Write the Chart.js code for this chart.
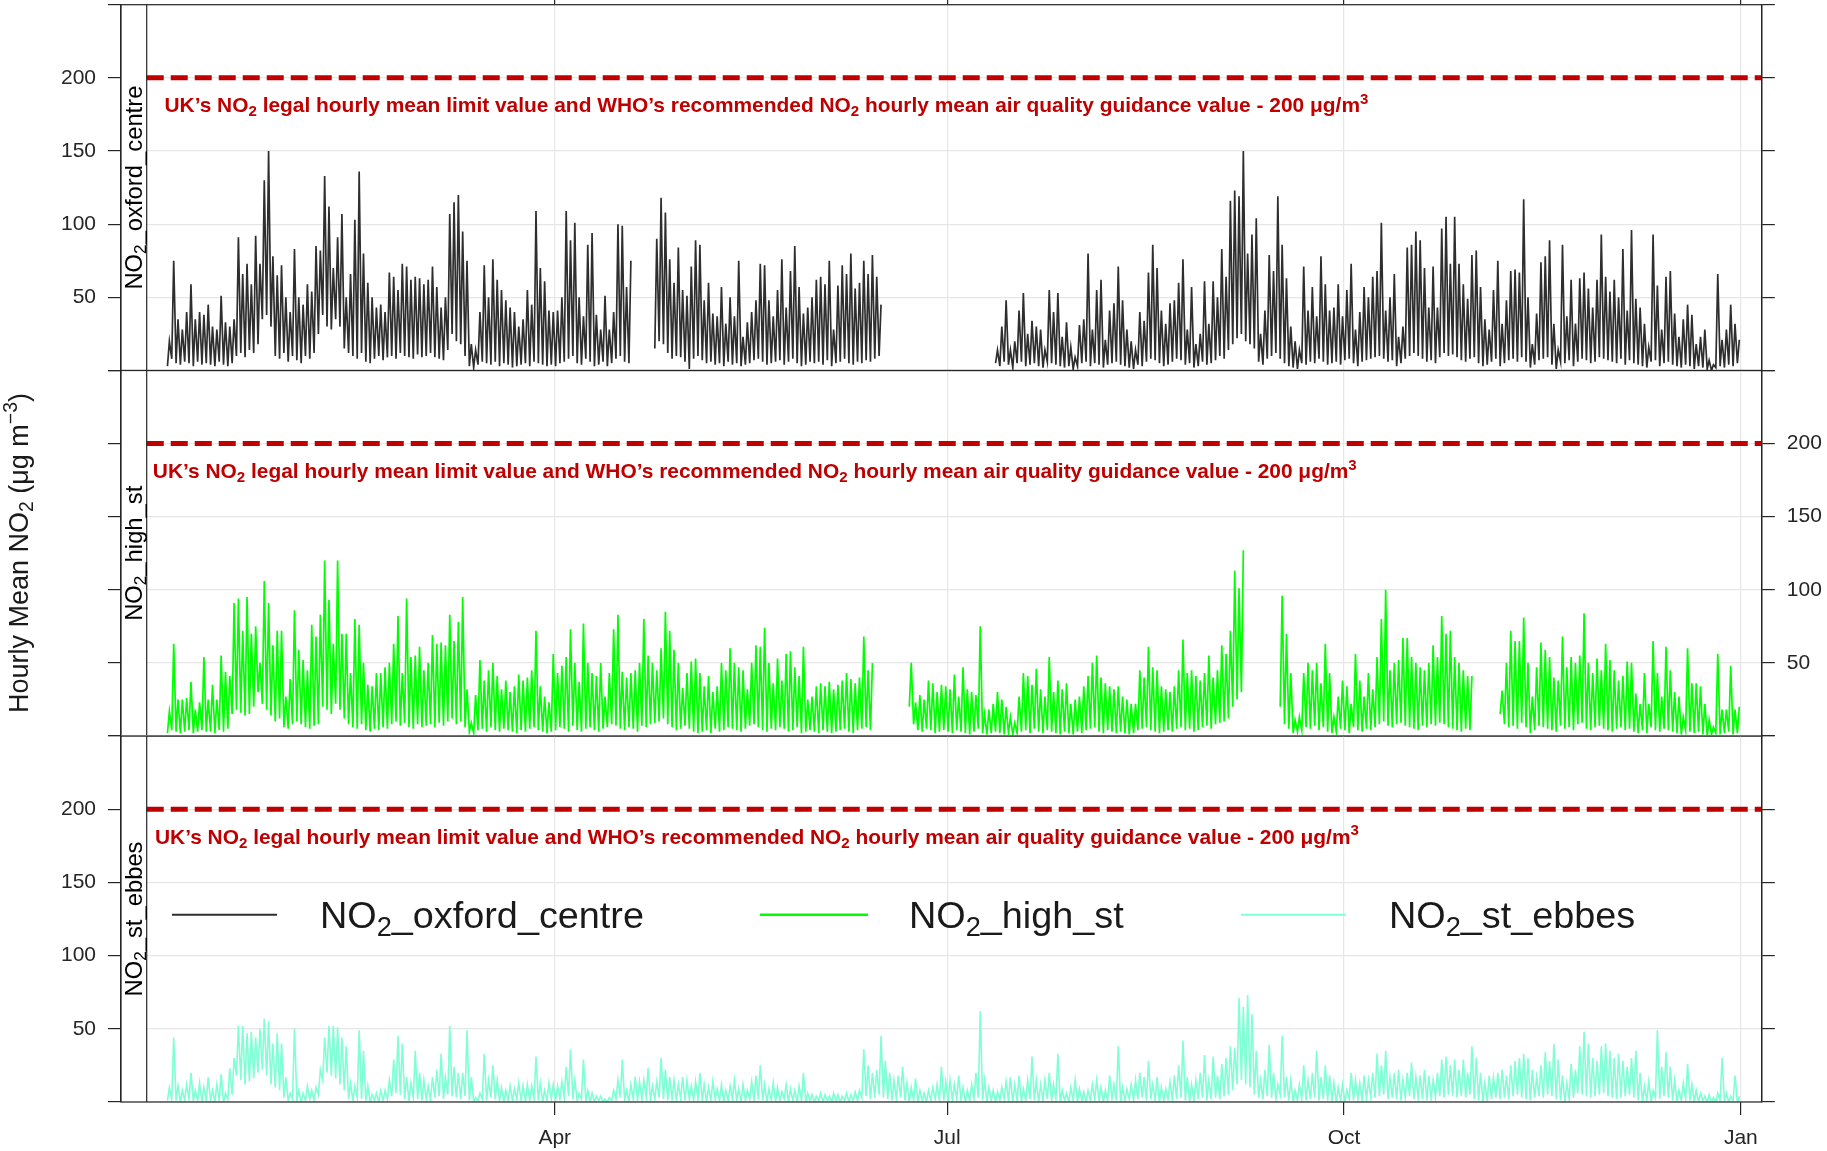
<!DOCTYPE html>
<html><head><meta charset="utf-8">
<script src="https://cdn.jsdelivr.net/npm/chart.js@4.4.1/dist/chart.umd.min.js"></script>
<style>
html,body{margin:0;padding:0;background:#fff;}
#wrap{position:relative;width:1827px;height:1151px;overflow:hidden;}
canvas{position:absolute;left:0;top:0;}
</style></head><body>
<div id="wrap">
<canvas id="c1" width="1827" height="1151"></canvas>
<canvas id="c2" width="1827" height="1151"></canvas>
<canvas id="c3" width="1827" height="1151"></canvas>
</div>
<script>
const N = null;
// ---- tick labels / categories ----
const monthTickDays = [90, 181, 273, 365];
const monthTickLabels = ['Apr', 'Jul', 'Oct', 'Jan'];
const yTickValues = [0, 50, 100, 150, 200, 250];
const yTickLabels = ['', '50', '100', '150', '200', ''];
const limitValue = 200;
const siteNames = ['oxford_centre', 'high_st', 'st_ebbes'];

// ---- daily peak / trough of hourly NO2 (day 0 = 1 Jan) ----
const oxfordPeak = [
20,75,35,28,40,59,35,40,38,45, 30,28,51,33,30,35,91,66,73,59,
92,73,130,150,78,65,72,50,40,83, 50,45,59,54,85,82,133,112,70,91,
107,50,66,103,136,80,60,50,43,45, 40,67,64,55,73,71,62,64,63,59,
62,71,57,43,50,107,115,120,95,75, 18,14,40,72,50,76,62,55,48,43,
40,30,35,55,45,109,70,61,41,40, 41,50,109,89,101,50,37,86,94,38,
28,51,28,40,100,99,57,75,N,N, N,N,N,90,118,108,76,60,84,55,
51,71,89,86,48,60,39,37,57,32, 50,37,75,23,33,40,48,73,72,48,
37,55,76,43,68,85,57,39,43,50, 62,64,59,75,28,58,72,66,80,56,
60,75,66,79,64,45,N,N,N,N, N,N,N,N,N,N,N,N,N,N,
N,N,N,N,N,N,N,N,N,N, N,N,14,30,48,14,20,41,53,25,
34,30,28,14,55,40,53,23,33,16, 9,31,35,80,28,55,62,21,41,46,
71,48,28,20,14,40,34,67,86,70, 41,32,46,48,60,76,28,57,18,25,
61,32,61,50,83,64,116,123,119,150, 80,93,104,25,41,79,68,119,86,63,
30,20,14,71,41,57,37,78,59,41, 43,59,37,55,73,28,40,57,50,64,
68,101,41,50,66,23,30,84,86,95, 89,70,43,71,43,97,105,73,105,73,
59,49,79,82,57,35,28,55,75,32, 48,68,69,67,117,50,18,39,74,78,
89,32,14,86,37,62,32,63,67,56, 43,62,93,64,54,62,50,83,41,96,
49,43,32,16,93,58,28,64,68,39, 23,35,45,38,18,23,28,7,4,66,
21,28,45,32,21];
const oxfordLow = [
3,8,5,4,6,5,3,6,4,5, 4,3,6,4,3,5,10,12,9,14,
12,18,35,38,30,10,8,12,6,10, 7,5,10,8,12,25,38,30,28,35,
30,15,12,10,8,12,6,5,8,10, 7,9,10,8,12,10,9,8,11,9,
10,12,9,8,7,14,25,20,18,10, 3,2,4,6,5,4,6,3,5,4,
2,3,4,5,3,6,5,4,3,4, 3,5,6,8,10,5,4,8,6,3,
4,6,3,5,8,10,6,5,N,N, N,N,N,15,20,18,12,8,10,9,
6,1,8,10,7,5,6,4,5,3, 6,4,5,3,4,5,7,8,6,4,
5,6,7,4,6,8,5,3,4,6, 5,6,4,7,3,5,6,8,5,4,
6,5,7,6,8,10,N,N,N,N, N,N,N,N,N,N,N,N,N,N,
N,N,N,N,N,N,N,N,N,N, N,N,5,3,6,4,2,5,6,3,
4,5,3,2,6,5,4,3,2,3, 1,3,5,6,3,5,4,2,4,5,
6,4,3,2,1,4,3,6,8,7, 5,3,4,6,8,7,4,5,2,3,
6,4,5,7,10,8,14,18,22,25, 20,18,15,6,4,8,10,12,8,5,
3,2,1,5,4,6,5,8,6,4, 5,6,4,7,8,5,3,6,7,8,
9,10,8,6,7,3,5,8,10,12, 10,8,6,7,5,9,12,10,11,9,
7,6,8,9,5,3,4,6,8,3, 5,7,8,6,9,6,2,4,7,8,
9,4,1,6,5,7,3,6,8,7, 5,6,9,8,7,6,5,8,4,7,
5,4,3,2,6,7,3,5,6,4, 3,2,4,3,1,3,2,1,0,2,
3,2,4,3,5];

const highStPeak = [
17,63,25,25,26,37,18,23,54,25, 35,25,55,44,41,91,94,72,95,70,
75,50,106,91,62,72,72,27,39,86, 59,52,45,76,68,83,120,93,63,120,
70,70,43,80,76,50,35,34,43,43, 47,50,63,82,43,94,54,55,61,45,
50,69,63,64,62,83,65,78,95,32, 9,28,52,38,45,50,41,32,38,30,
34,42,38,40,45,72,34,27,23,56, 43,48,54,73,50,37,77,50,43,41,
50,27,43,73,83,44,40,43,45,50, 80,55,50,45,60,85,72,59,50,33,
43,51,53,43,34,41,30,34,50,45, 60,50,47,45,32,50,62,61,74,50,
36,53,38,56,58,47,41,61,25,27, 34,36,34,37,32,35,38,43,39,36,
40,68,45,50,N,N,N,N,N,N, N,N,50,23,28,25,38,36,30,35,
34,32,42,27,47,32,30,28,75,15, 18,22,30,25,20,13,9,27,43,41,
35,46,32,27,54,30,38,32,36,22, 25,27,34,41,50,55,40,36,34,32,
34,27,25,22,22,45,40,61,47,45, 34,32,30,34,45,66,43,45,41,38,
43,55,40,45,62,56,72,113,101,127, N,N,N,N,N,N,N,N,96,70,
43,11,13,43,50,45,50,36,63,43, 13,27,38,34,22,56,38,27,43,32,
54,80,100,45,50,52,67,67,54,50, 47,45,50,62,54,82,70,72,54,50,
45,41,41,N,N,N,N,N,N,31, 50,72,65,65,81,50,27,47,64,59,
54,40,38,68,47,54,50,55,84,50, 43,53,45,63,52,45,38,41,51,50,
29,22,43,22,65,43,27,61,45,30, 27,13,60,36,36,34,22,11,6,56,
18,18,48,18,20];
const highStLow = [
2,4,3,2,3,4,2,3,4,3, 3,2,4,3,5,15,18,16,14,15,
20,30,22,18,14,10,12,6,5,8, 10,8,6,5,7,8,20,18,15,22,
18,12,8,6,5,8,4,3,5,4, 6,5,8,10,7,9,6,5,8,6,
7,8,6,9,7,10,12,8,10,6, 3,2,4,5,3,6,4,3,5,4,
3,2,4,3,5,6,4,3,2,3, 4,6,5,3,7,4,3,5,6,4,
3,5,6,8,7,5,4,6,5,3, 7,6,8,9,10,12,8,6,4,5,
7,5,3,2,3,4,2,5,3,4, 6,5,4,3,5,7,8,6,4,3,
5,4,6,5,3,4,6,2,3,4, 3,2,4,3,2,3,4,5,3,2,
4,5,6,4,N,N,N,N,N,N, N,N,20,8,4,3,5,4,2,3,
4,3,2,4,3,2,1,3,5,2, 1,2,3,2,1,2,1,2,3,4,
2,5,3,2,4,3,2,1,3,2, 1,3,2,4,5,6,3,2,4,3,
2,3,2,1,2,4,5,6,4,3, 2,3,4,3,5,6,4,5,3,4,
6,7,5,8,9,10,12,20,25,30, N,N,N,N,N,N,N,N,20,8,
5,2,3,4,6,5,7,4,6,3, 2,3,5,4,2,6,4,3,5,4,
6,8,10,7,6,8,9,7,6,5, 4,7,6,8,7,9,8,6,5,4,
3,5,4,N,N,N,N,N,N,15, 8,6,7,5,9,6,2,4,7,6,
5,4,3,7,5,6,4,8,9,5, 4,6,7,5,4,3,5,6,4,5,
3,2,4,2,6,4,3,5,4,3, 2,1,4,3,2,3,1,0,1,2,
1,2,3,1,2];

const stEbbesPeak = [
10,44,11,8,12,20,8,13,10,17, 8,12,19,6,23,30,52,52,47,48,
44,50,57,55,40,47,40,17,6,50, 8,6,11,8,10,22,44,52,52,51,
44,38,13,11,49,35,11,5,6,8, 8,15,29,45,40,17,13,35,20,15,
11,17,22,33,17,52,24,20,20,49, 17,3,6,33,15,25,15,10,8,11,
9,13,11,12,11,31,13,8,13,12, 11,14,24,36,15,6,29,8,6,4,
4,2,3,8,15,29,8,12,17,14, 15,23,11,14,30,22,17,15,12,17,
15,11,14,20,12,10,14,9,12,8, 11,15,9,12,8,14,18,25,12,9,
13,10,7,12,9,8,11,20,6,5, 4,6,5,4,6,5,4,6,5,7,
8,36,25,20,22,45,28,20,15,18, 24,13,10,16,8,6,8,10,12,24,
14,15,12,18,10,8,12,20,62,15, 10,8,7,10,14,17,12,18,9,15,
31,15,12,15,20,12,33,8,6,10, 15,9,7,8,12,15,10,8,18,12,
38,10,9,12,15,20,17,28,12,17, 10,9,14,18,25,42,17,12,15,20,
32,15,31,18,26,30,38,37,71,65, 73,60,35,15,22,39,20,12,45,17,
15,8,12,25,15,20,35,17,25,18, 13,10,12,8,20,15,13,18,15,20,
33,25,35,17,20,22,15,20,27,17, 18,22,18,15,20,29,31,25,29,22,
29,20,38,30,20,13,18,17,20,22, 18,25,28,30,33,30,22,17,25,34,
28,40,29,18,13,26,22,38,48,40, 30,28,38,40,35,30,33,28,24,30,
35,20,11,14,8,49,24,34,24,15, 8,13,26,12,8,6,4,5,3,6,
30,6,4,18,4];
const stEbbesLow = [
1,2,1,0,1,2,1,1,0,1, 1,0,1,0,2,5,18,15,12,14,
16,20,22,18,12,10,8,3,1,2, 1,0,1,2,1,5,15,20,18,16,
12,8,2,1,3,2,1,0,1,0, 1,2,4,6,5,2,1,3,2,1,
2,1,3,4,2,5,4,3,2,4, 1,0,1,2,1,3,2,1,0,1,
1,2,1,0,1,2,1,0,1,2, 1,2,3,4,2,1,2,1,0,0,
1,0,0,1,2,3,1,0,2,1, 2,3,1,2,3,2,1,2,1,2,
1,2,1,2,1,0,1,2,1,0, 1,2,1,0,1,2,1,2,1,0,
1,0,1,2,0,1,0,1,0,1, 0,1,0,1,0,1,0,1,0,1,
1,3,4,2,3,5,3,2,1,2, 3,1,0,1,0,1,0,1,2,1,
1,0,1,2,1,0,1,2,3,1, 0,1,0,1,2,1,0,1,0,1,
2,1,0,1,2,1,2,0,1,0, 1,0,1,0,1,2,1,0,1,2,
1,0,1,2,1,2,3,1,2,1, 0,1,2,1,2,3,1,0,1,2,
3,1,2,3,2,4,5,8,12,15, 12,10,5,3,2,4,3,2,5,3,
1,0,1,2,1,2,3,1,2,1, 1,0,1,0,2,1,2,1,2,3,
3,4,5,2,3,2,1,3,4,2, 3,2,1,2,3,4,3,5,4,3,
4,3,5,2,1,0,1,2,3,2, 3,2,4,5,3,2,1,3,4,3,
5,4,2,1,0,2,3,6,5,4, 3,4,5,6,4,3,2,3,4,5,
3,1,0,1,0,3,2,4,3,1, 0,1,2,1,0,0,1,0,0,0,
1,0,0,1,0];

[oxfordPeak,oxfordLow,highStPeak,highStLow,stEbbesPeak,stEbbesLow].forEach((a,i)=>{
  if (a.length !== 365) throw new Error('array '+i+' has length '+a.length);
});

// ---- layout / style ----
const FONT = '"Liberation Sans", Arial, Helvetica, sans-serif';
const PAGE_W = 1827, PAGE_H = 1151;
const BOX_LEFT = 121, STRIP_RIGHT = 146.7, BOX_RIGHT = 1761.8;
const LEFT_W = BOX_LEFT, RIGHT_W = PAGE_W - BOX_RIGHT;
const X_MIN = -10.57, X_MAX = 369.86, Y_MIN = 0, Y_MAX = 250;
const LIMIT_START = -4.6;
const GRID = '#e6e6e6', AXIS = '#262626', RED = '#c00000';
const TICK_FONT = { family: FONT, size: 21 };
const X_AXIS_H = 49;
const ANNOT_Y = 176.5;
const STRIP_BASE_X = 141.5;

const panelDefs = [
  { canvas:'c1', peak:oxfordPeak, low:oxfordLow, color:'#2e2e2e', lw:1.7, top:4.7, bottom:370.5, labelSide:'left', xPos:'top', xTicks:true, xLabels:false, annotX:-0.5 },
  { canvas:'c2', peak:highStPeak, low:highStLow, color:'#00ff00', lw:1.7, top:370.5, bottom:736, labelSide:'right', xPos:'bottom', xTicks:false, xLabels:false, annotX:-3.2 },
  { canvas:'c3', peak:stEbbesPeak, low:stEbbesLow, color:'#7fffd4', lw:1.6, top:736, bottom:1102, labelSide:'left', xPos:'bottom', xTicks:true, xLabels:true, annotX:-2.7 }
];

const legendLayout = [
  { x0:172, x1:277, tx:320, lw:2 },
  { x0:760, x1:868, tx:909, lw:2.5 },
  { x0:1241, x1:1346, tx:1389, lw:2 }
];
const LEGEND_Y = 914.7;

// ---- rich text helpers ----
function richWidth(ctx, segs, size, weight) {
  let w = 0;
  for (const s of segs) {
    const fs = (s.sub || s.sup) ? size * 0.72 : size;
    ctx.font = weight + ' ' + fs + 'px ' + FONT;
    w += ctx.measureText(s.t).width;
  }
  return w;
}
function drawRich(ctx, segs, x, y, size, weight, color) {
  ctx.fillStyle = color; ctx.textAlign = 'left'; ctx.textBaseline = 'alphabetic';
  let cx = x;
  for (const s of segs) {
    const fs = (s.sub || s.sup) ? size * 0.72 : size;
    ctx.font = weight + ' ' + fs + 'px ' + FONT;
    const dy = s.sub ? size * 0.2 : (s.sup ? -size * 0.4 : 0);
    ctx.fillText(s.t, cx, y + dy);
    cx += ctx.measureText(s.t).width;
  }
}
function nameSegs(name) { return [{ t:'NO' }, { t:'2', sub:true }, { t:'_' + name }]; }
const annotSegs = [{ t:'UK\u2019s NO' }, { t:'2', sub:true }, { t:' legal hourly mean limit value and WHO\u2019s recommended NO' }, { t:'2', sub:true }, { t:' hourly mean air quality guidance value - 200 \u03bcg/m' }, { t:'3', sup:true }];
const titleSegs = [{ t:'Hourly Mean NO' }, { t:'2', sub:true }, { t:' (\u03bcg m' }, { t:'\u22123', sup:true }, { t:')' }];

const mctx = document.createElement('canvas').getContext('2d');
const annotSize = 20 * 1205 / richWidth(mctx, annotSegs, 20, 'bold');
const stripSize = 20 * 204 / richWidth(mctx, nameSegs(siteNames[0]), 20, 'normal');
const legendSize = 20 * 324 / richWidth(mctx, nameSegs(siteNames[0]), 20, 'normal');
const titleSize = 20 * 320 / richWidth(mctx, titleSegs, 20, 'normal');

function buildPoints(peak, low) {
  const pts = [];
  for (let d = 0; d < peak.length; d++) {
    if (peak[d] === null) { pts.push({ x:d + 0.5, y:null }); continue; }
    pts.push({ x:d + 0.2, y:low[d] });
    pts.push({ x:d + 0.65, y:peak[d] });
  }
  return pts;
}

function yScale(pos, labeled) {
  return {
    type:'linear', position:pos, min:Y_MIN, max:Y_MAX,
    afterBuildTicks: s => { s.ticks = yTickValues.map(v => ({ value:v })); },
    afterFit: s => { s.width = (pos === 'left') ? LEFT_W : RIGHT_W; s.paddingTop = 0; s.paddingBottom = 0; },
    ticks: { display:labeled, callback:(v, i) => yTickLabels[i], font:TICK_FONT, color:AXIS, padding:12 },
    grid: { color:GRID, lineWidth:1.2, drawOnChartArea:labeled, drawTicks:true, tickLength:13, tickColor:AXIS, tickWidth:1.2 },
    border: { display:true, color:AXIS, width:1.2 }
  };
}
function xScale(p) {
  return {
    type:'linear', position:p.xPos, min:X_MIN, max:X_MAX,
    afterBuildTicks: s => { s.ticks = monthTickDays.map(v => ({ value:v })); },
    afterFit: s => { s.height = p.xLabels ? X_AXIS_H : 0; s.paddingLeft = 0; s.paddingRight = 0; },
    ticks: { display:p.xLabels, callback:(v, i) => monthTickLabels[i], font:TICK_FONT, color:AXIS, padding:11, maxRotation:0, autoSkip:false },
    grid: { color:GRID, lineWidth:1.2, drawOnChartArea:true, drawTicks:p.xTicks, tickLength:13, tickColor:AXIS, tickWidth:1.2 },
    border: { display:false }
  };
}

function drawYTitle(ctx) {
  ctx.save();
  ctx.translate(28, 553);
  ctx.rotate(-Math.PI / 2);
  const w = richWidth(ctx, titleSegs, titleSize, 'normal');
  drawRich(ctx, titleSegs, -w / 2, 0, titleSize, 'normal', '#1a1a1a');
  ctx.restore();
}
function drawLegend(ctx) {
  ctx.save();
  legendLayout.forEach((L, i) => {
    ctx.strokeStyle = panelDefs[i].color; ctx.lineWidth = L.lw;
    ctx.beginPath(); ctx.moveTo(L.x0, LEGEND_Y); ctx.lineTo(L.x1, LEGEND_Y); ctx.stroke();
    drawRich(ctx, nameSegs(siteNames[i]), L.tx, LEGEND_Y + legendSize * 0.36, legendSize, 'normal', '#1a1a1a');
  });
  ctx.restore();
}

function decorPlugin(p, idx) {
  const yId = p.labelSide === 'left' ? 'yL' : 'yR';
  return {
    id:'decor' + idx,
    beforeDatasetsDraw(chart) {
      const { ctx, chartArea:a } = chart;
      ctx.save();
      ctx.fillStyle = '#ffffff';
      ctx.fillRect(a.left + 0.6, a.top + 0.6, STRIP_RIGHT - a.left - 0.6, a.bottom - a.top - 1.2);
      ctx.restore();
    },
    afterDraw(chart) {
      const { ctx, chartArea:a } = chart;
      const xs = chart.scales.x, ys = chart.scales[yId];
      ctx.save();
      drawRich(ctx, annotSegs, xs.getPixelForValue(p.annotX), ys.getPixelForValue(ANNOT_Y), annotSize, 'bold', RED);
      ctx.strokeStyle = AXIS; ctx.lineWidth = 1.2;
      ctx.beginPath(); ctx.moveTo(STRIP_RIGHT, a.top); ctx.lineTo(STRIP_RIGHT, a.bottom); ctx.stroke();
      ctx.strokeRect(a.left, a.top, a.right - a.left, a.bottom - a.top);
      const segs = nameSegs(siteNames[idx]);
      ctx.translate(STRIP_BASE_X, (a.top + a.bottom) / 2);
      ctx.rotate(-Math.PI / 2);
      const w = richWidth(ctx, segs, stripSize, 'normal');
      drawRich(ctx, segs, -w / 2, 0, stripSize, 'normal', '#000000');
      ctx.restore();
      if (idx === 0) drawYTitle(ctx);
      if (idx === 2) drawLegend(ctx);
    }
  };
}

panelDefs.forEach((p, idx) => {
  const labelLeft = p.labelSide === 'left';
  const yId = labelLeft ? 'yL' : 'yR';
  new Chart(document.getElementById(p.canvas), {
    type:'line',
    data: { datasets: [
      { label:siteNames[idx], data:buildPoints(p.peak, p.low), yAxisID:yId, xAxisID:'x', borderColor:p.color, borderWidth:p.lw, pointRadius:0, tension:0, spanGaps:false, fill:false, borderJoinStyle:'miter' },
      { label:'limit', data:[{ x:LIMIT_START, y:limitValue }, { x:X_MAX, y:limitValue }], yAxisID:yId, xAxisID:'x', borderColor:RED, borderWidth:5, borderDash:[17, 7], borderCapStyle:'butt', pointRadius:0, fill:false }
    ] },
    options: {
      responsive:false, animation:false, events:[],
      layout: { padding: { left:BOX_LEFT - LEFT_W, right:PAGE_W - BOX_RIGHT - RIGHT_W, top:p.top, bottom:PAGE_H - p.bottom - (p.xLabels ? X_AXIS_H : 0) } },
      plugins: { legend:{ display:false }, tooltip:{ enabled:false } },
      scales: { x:xScale(p), yL:yScale('left', labelLeft), yR:yScale('right', !labelLeft) }
    },
    plugins: [decorPlugin(p, idx)]
  });
});
</script>
</body></html>
